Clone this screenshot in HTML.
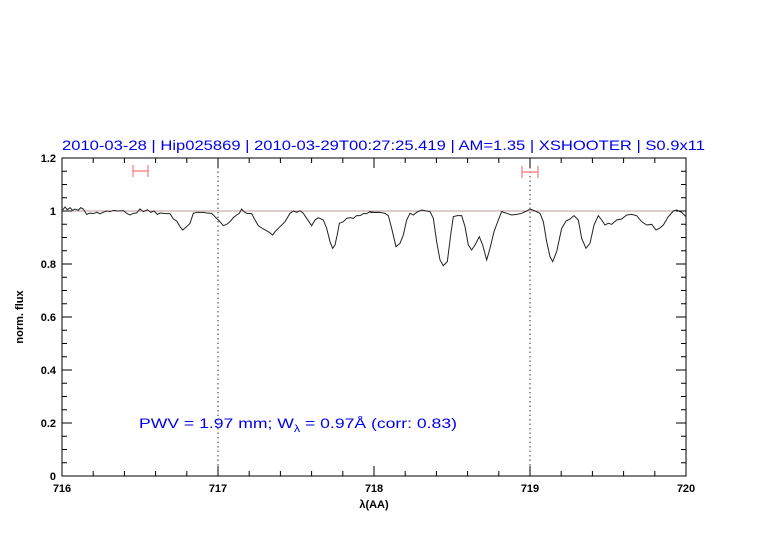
<!DOCTYPE html>
<html><head><meta charset="utf-8"><style>
body{margin:0;background:#fff;}
svg text{font-family:"Liberation Sans",sans-serif;}
</style></head><body>
<svg width="782" height="542" viewBox="0 0 782 542" xmlns="http://www.w3.org/2000/svg">
<rect width="782" height="542" fill="#fff"/>
<text x="62" y="150" font-size="14" fill="#0000ee" textLength="643" lengthAdjust="spacingAndGlyphs">2010-03-28 | Hip025869 | 2010-03-29T00:27:25.419 | AM=1.35 | XSHOOTER | S0.9x11</text>
<line x1="62" y1="211" x2="686" y2="211" stroke="#b99" stroke-width="1"/>
<line x1="218" y1="158" x2="218" y2="476" stroke="#333" stroke-dasharray="1.5,3"/>
<line x1="530" y1="158" x2="530" y2="476" stroke="#333" stroke-dasharray="1.5,3"/>
<g stroke="#f77" stroke-width="1.2" fill="none">
<path d="M133 171H148M133 165V177M148 165V177"/>
<path d="M522 172H538M522 166V178M538 166V178"/>
</g>
<g transform="translate(60,195) scale(0.33333)" fill="none" stroke="#222" stroke-width="1" >
<polyline vector-effect="non-scaling-stroke" points="8,45 15,36 22,44 30,38 38,46 45,42 55,46 62,38 70,42 80,58 90,54 100,56 110,52 120,56 130,52 140,48 150,50 160,46 175,48 190,47 200,55 210,60 220,55 230,54 240,42 250,50 262,44 272,52 282,48 292,58 300,54 320,56 330,56 340,72 350,78 360,95 368,105 380,95 390,85 400,55 410,52 430,52 440,54 455,55 465,65 478,78 490,92 500,88 510,80 520,68 530,60 538,55 545,42 552,50 560,55 575,56 585,75 595,92 610,102 625,110 638,120 645,110 660,95 675,80 690,55 700,48 710,52 720,47 730,55 740,70 755,92 765,75 775,68 790,75 800,100 810,140 818,160 825,150 832,118 838,85 850,80 860,70 870,68 880,70 890,62 900,62 910,56 920,56 930,50 940,52 960,52"/>
</g>
<g transform="translate(370,195) scale(0.33333)" fill="none" stroke="#222" stroke-width="1">
<polyline vector-effect="non-scaling-stroke" points="0,52 30,52 45,55 55,62 65,100 78,155 90,145 100,120 110,75 120,55 130,60 140,52 155,45 170,48 180,50 190,70 200,140 210,195 220,212 232,200 242,120 250,65 262,62 275,62 285,95 295,150 305,165 315,150 328,125 338,150 350,195 360,160 372,110 385,75 395,50 410,55 425,60 440,58 455,55 470,48 480,42 495,48 510,55 520,80 530,140 540,185 548,200 560,170 575,100 588,78 600,72 612,62 625,75 635,130 648,160 660,145 672,90 685,62 695,75 705,90 715,85 725,88 740,75 755,72 770,60 785,58 800,62 815,80 830,90 845,88 858,105 868,100 880,90 895,65 910,48 920,45 935,52 948,65"/>
</g>
<rect x="62" y="158" width="624" height="318" fill="none" stroke="#000" stroke-width="1"/>
<g stroke="#000" stroke-width="1" id="ticks"></g>
<g font-size="11" fill="#000" text-anchor="middle" font-weight="bold">
<text x="62" y="492">716</text><text x="218" y="492">717</text><text x="374" y="492">718</text><text x="530" y="492">719</text><text x="686" y="492">720</text>
<text x="374" y="508">λ(AA)</text>
</g>
<g font-size="11" fill="#000" text-anchor="end" font-weight="bold">
<text x="56" y="162">1.2</text><text x="56" y="215">1</text><text x="56" y="268">0.8</text><text x="56" y="321">0.6</text><text x="56" y="374">0.4</text><text x="56" y="427">0.2</text><text x="56" y="480">0</text>
</g>
<text transform="translate(23,317) rotate(-90)" font-size="11" text-anchor="middle" font-weight="bold">norm. flux</text>
<text x="139" y="428" font-size="14" fill="#0000ee" textLength="318" lengthAdjust="spacingAndGlyphs">PWV = 1.97 mm; W<tspan font-size="10" dy="4">λ</tspan><tspan dy="-4"> = 0.97Å (corr: 0.83)</tspan></text>
<script>
var g=document.getElementById('ticks'),s='';
for(var i=0;i<=20;i++){var x=62+i*31.2,L=(i%5==0)?10:5;s+='M'+x+' 476v-'+L+'M'+x+' 158v'+L;}
for(var j=0;j<=24;j++){var y=158+j*13.25,L=(j%4==0)?10:5;s+='M62 '+y+'h'+L+'M686 '+y+'h-'+L;}
var p=document.createElementNS('http://www.w3.org/2000/svg','path');p.setAttribute('d',s);g.appendChild(p);
</script>
</svg>
</body></html>
